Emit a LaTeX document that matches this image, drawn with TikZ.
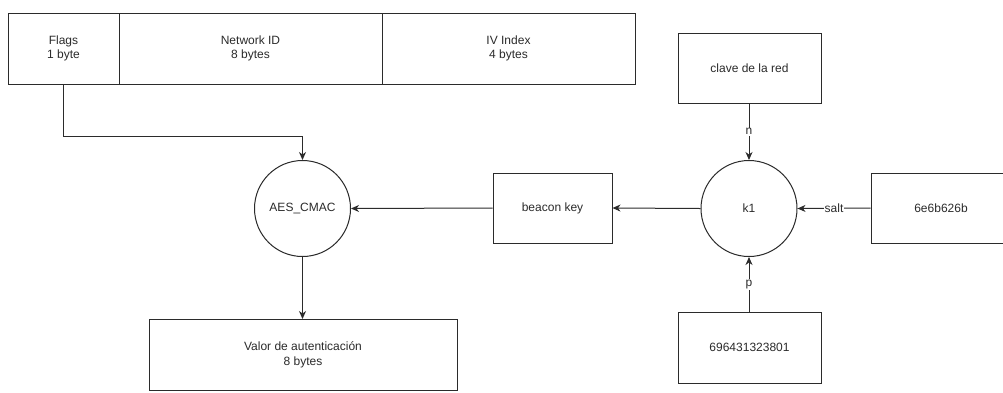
\documentclass[tikz,border=0pt]{standalone}
\usepackage{fontspec}
\setmainfont{Liberation Sans}
\usetikzlibrary{arrows.meta,positioning}
\definecolor{ink}{HTML}{2B2B2B}
\tikzset{
  box/.style={draw=ink, line width=1pt, fill=white, inner sep=0pt, align=center,
              text=ink, font=\fontsize{12}{14.5}\selectfont},
  fn/.style={draw=ink, line width=1pt, circle, fill=white, inner sep=0pt,
             minimum size=96pt, text=ink, font=\fontsize{12}{14.5}\selectfont},
  link/.style={draw=ink, line width=1pt, -{Stealth[length=8pt,width=7pt,inset=2.5pt]}},
  lbl/.style={fill=white, inner sep=1pt, text=ink, font=\fontsize{12}{14}\selectfont}
}
\begin{document}
\begin{tikzpicture}[x=1pt,y=-1pt]
\useasboundingbox (0,0) rectangle (1003,392);

% beacon fields
\node[box, minimum width=111pt, minimum height=71pt] (flags) at (63.5,48.5) {Flags\\1 byte};
\node[box, minimum width=263pt, minimum height=71pt] (netid) at (250.5,48.5) {Network ID\\8 bytes};
\node[box, minimum width=253pt, minimum height=71pt] (ivi) at (508.5,48.5) {IV Index\\4 bytes};

% functions
\node[fn] (aes) at (302.5,208.5) {AES\_CMAC};
\node[fn] (k1) at (749,208.5) {k1};

% keys and inputs
\node[box, minimum width=119pt, minimum height=70pt] (bkey) at (552.5,208) {beacon key};
\node[box, minimum width=143pt, minimum height=70pt] (net) at (749.5,68) {clave de la red};
\node[box, minimum width=143pt, minimum height=71pt] (p) at (749.5,347.5) {696431323801};
\node[box, minimum width=140pt, minimum height=70pt] (salt) at (941,208) {6e6b626b};
\node[box, minimum width=308pt, minimum height=71pt] (auth) at (303,355) {Valor de autenticación\\8 bytes};

% connectors
\coordinate (bend1) at (63,136);
\coordinate (bend2) at (302.5,136);
\draw[link] (flags.south -| bend1) -- (bend1) -- (bend2) -- (aes.north);
\draw[link] (bkey.west) -- (aes.east);
\draw[link] (k1.west) -- (bkey.east);
\draw[link] (aes.south) -- (auth.north -| aes.south);
\draw[link] (net.south -| k1.north) -- node[lbl] {n} (k1.north);
\draw[link] (salt.west) -- node[lbl, pos=0.5] {salt} (k1.east);
\draw[link] (p.north -| k1.south) -- node[lbl] {p} (k1.south);
\end{tikzpicture}
\end{document}
